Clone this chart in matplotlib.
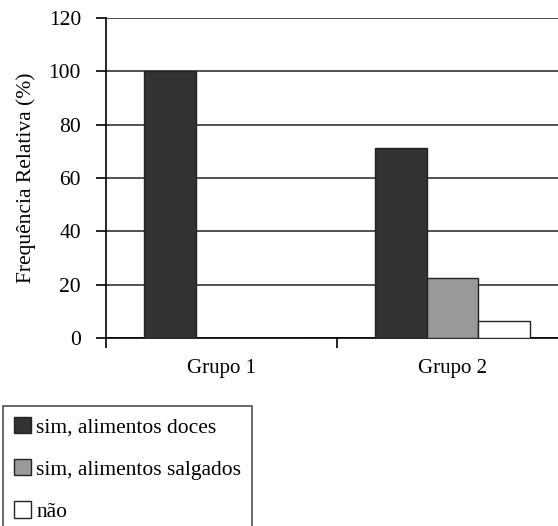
import numpy as np
import matplotlib
matplotlib.use('Agg')
import matplotlib.pyplot as plt

plt.rcParams['font.family'] = ['Liberation Serif', 'DejaVu Serif']

# dados
grupos = ['Grupo 1', 'Grupo 2']
series = ['sim, alimentos doces', 'sim, alimentos salgados', 'não']
doces = [100, 71.4]
salgados = [0, 22.5]
nao = [0, 6.5]
cores = ['#333333', '#999999', '#ffffff']

fig = plt.figure(figsize=(5.58, 5.26), dpi=100)
# eixo cortado à direita como no original
ax = fig.add_axes([106 / 558, 1 - 338 / 526, (568 - 106) / 558, (338 - 18) / 526])

x = np.arange(len(grupos))
w = 0.223
for i, (vals, lab, c) in enumerate(zip([doces, salgados, nao], series, cores)):
    ax.bar(x + (i - 1) * w, vals, w, color=c, edgecolor='#222222', linewidth=1,
           label=lab, zorder=3)

ax.set_xlim(-0.5, 1.5)
ax.set_ylim(0, 120)
ax.set_yticks(range(0, 121, 20))
ax.yaxis.grid(True, color='#333333', linewidth=1.2, zorder=0)
ax.set_axisbelow(True)

ax.set_xticks(x)
ax.set_xticklabels(grupos, fontsize=15)
ax.set_xticks([-0.5, 0.5, 1.5], minor=True)
ax.tick_params(axis='x', which='major', length=0, pad=15)
ax.tick_params(axis='x', which='minor', length=7.5, width=1.2, direction='out')
ax.tick_params(axis='y', length=7, width=1.2, labelsize=15.5, pad=11)

for s in ['top', 'right']:
    ax.spines[s].set_visible(False)
ax.spines['left'].set_linewidth(1.2)
ax.spines['bottom'].set_linewidth(1.2)

ax.set_ylabel('Frequência Relativa (%)', fontsize=15.5, labelpad=9)

h, l = ax.get_legend_handles_labels()
leg = fig.legend(h, l, loc='upper left', bbox_to_anchor=(3 / 558, 1 - 406 / 526),
                 fontsize=15.5, frameon=True, fancybox=False, edgecolor='#222222',
                 handlelength=0.8, handleheight=0.8, handletextpad=0.25,
                 labelspacing=1.0, borderpad=0.5, borderaxespad=0)
leg.get_frame().set_linewidth(1.2)

plt.savefig('out.png', dpi=100)
